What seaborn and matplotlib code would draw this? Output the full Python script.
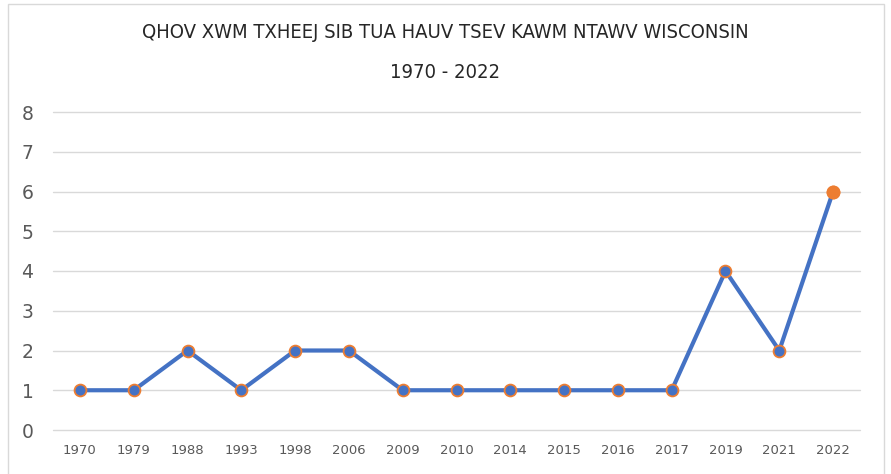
import pandas as pd
import seaborn as sns
import matplotlib.pyplot as plt
from matplotlib.patches import Rectangle

years = ["1970", "1979", "1988", "1993", "1998", "2006", "2009", "2010",
         "2014", "2015", "2016", "2017", "2019", "2021", "2022"]
counts = [1, 1, 2, 1, 2, 2, 1, 1, 1, 1, 1, 1, 4, 2, 6]
title_line1 = "QHOV XWM TXHEEJ SIB TUA HAUV TSEV KAWM NTAWV WISCONSIN"
title_line2 = "1970 - 2022"

df = pd.DataFrame({"year": years, "count": counts})

sns.set_style("white")
plt.rcParams["font.family"] = ["DejaVu Sans"]

blue = "#4472C4"
orange = "#ED7D31"

fig = plt.figure(figsize=(8.91, 4.74), dpi=100)
ax = fig.add_axes([53 / 891, 44 / 474, 807 / 891, 318 / 474])

sns.lineplot(data=df, x="year", y="count", sort=False, ax=ax, color=blue,
             linewidth=3, marker="o", markersize=8.5,
             markerfacecolor=blue, markeredgecolor=orange, markeredgewidth=1.3,
             zorder=3)
# last point is drawn solid orange in the original
last = df.iloc[[-1]]
ax.plot(last["year"], last["count"], "o", color=orange, markersize=9, zorder=4)

ax.set_xlim(-0.5, len(years) - 0.5)
ax.set_ylim(0, 8)
ax.set_yticks(range(0, 9))
ax.yaxis.grid(True, color="#d9d9d9", linewidth=1)
for gl in ax.get_ygridlines():
    gl.set_clip_on(False)
ax.set_axisbelow(True)
for s in ax.spines.values():
    s.set_visible(False)
ax.tick_params(axis="y", length=0, pad=14, labelsize=13.5, labelcolor="#595959")
ax.tick_params(axis="x", length=0, pad=10, labelsize=9.5, labelcolor="#595959")
ax.set_xlabel("")
ax.set_ylabel("")

fig.text(0.5, 1 - 32 / 474, title_line1, ha="center", va="center",
         fontsize=14.5, color="#262626", fontstretch="condensed")
fig.text(0.5, 1 - 72 / 474, title_line2, ha="center", va="center",
         fontsize=14.5, color="#262626", fontstretch="condensed")

fig.patches.append(Rectangle((8 / 891, -0.05), 876 / 891, 1.05 - 4 / 474,
                             transform=fig.transFigure, fill=False,
                             edgecolor="#d9d9d9", linewidth=1))

fig.savefig("out.png", dpi=100)
